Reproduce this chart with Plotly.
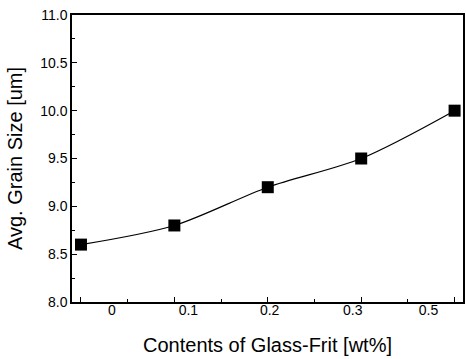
import plotly.graph_objects as go

# data
frit_labels = ["0", "0.1", "0.2", "0.3", "0.5"]
grain_size = [8.6, 8.8, 9.2, 9.5, 10.0]
point_index = [0, 1, 2, 3, 4]
label_index = [0.33, 1.15, 2.02, 2.91, 3.72]

FONT = "Liberation Sans, Arial, sans-serif"
xr = [-0.096, 4.09]

fig = go.Figure()
fig.add_trace(go.Scatter(
    x=point_index, y=grain_size, mode="lines+markers",
    line=dict(color="black", width=1.2, shape="spline", smoothing=0.85),
    marker=dict(symbol="square", size=12, color="black"),
    showlegend=False, hoverinfo="skip",
))

fig.update_layout(
    width=466, height=359,
    margin=dict(l=72, r=1, t=15, b=57),
    paper_bgcolor="white", plot_bgcolor="white",
    font=dict(family=FONT, color="black"),
    xaxis=dict(
        range=xr, showgrid=False, zeroline=False,
        showline=True, linecolor="black", linewidth=1.5, mirror=True,
        tickmode="array", tickvals=point_index, ticks="inside",
        ticklen=5, tickwidth=1.2, tickcolor="black",
        showticklabels=False,
        minor=dict(tickmode="linear", tick0=0.5, dtick=1, ticks="inside",
                   ticklen=3, tickwidth=1, tickcolor="black"),
        title=dict(text="Contents of Glass-Frit [wt%]",
                   font=dict(size=20, family=FONT), standoff=35),
    ),
    xaxis2=dict(
        range=xr, overlaying="x", anchor="y", side="bottom",
        showgrid=False, zeroline=False, showline=False,
        tickmode="array", tickvals=label_index, ticktext=frit_labels,
        ticks="", ticklabelstandoff=-2, tickfont=dict(size=14, family=FONT),
    ),
    yaxis=dict(
        range=[8.0, 11.0], showgrid=False, zeroline=False,
        showline=True, linecolor="black", linewidth=1.5, mirror=True,
        tickmode="linear", tick0=8.0, dtick=0.5, tickformat=".1f",
        ticks="inside", ticklen=5, tickwidth=1.2, tickcolor="black",
        tickfont=dict(size=14, family=FONT),
        minor=dict(tickmode="linear", tick0=8.25, dtick=0.5, ticks="inside",
                   ticklen=3, tickwidth=1, tickcolor="black"),
        title=dict(text="Avg. Grain Size [um]",
                   font=dict(size=20, family=FONT), standoff=12),
    ),
)
# invisible trace to activate xaxis2
fig.add_trace(go.Scatter(x=[xr[0]], y=[8.0], xaxis="x2", mode="markers",
                         marker=dict(opacity=0), showlegend=False,
                         hoverinfo="skip"))

fig.write_html("out.html")
